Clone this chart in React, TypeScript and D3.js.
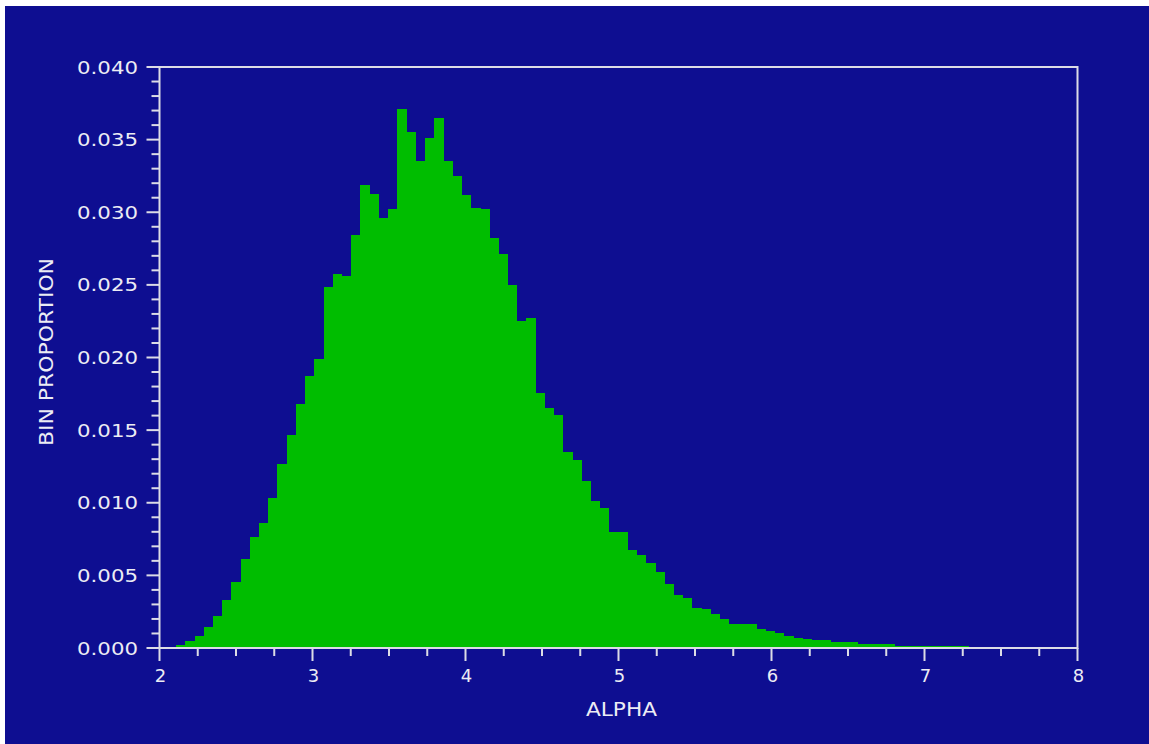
import React from "react";
import * as d3 from "d3";

// Histogram of ALPHA: proportion of observations falling in each bin
const binStart = 2.109;
const binWidth = 0.0602;
const proportions = [
  0.00019, 0.00046, 0.00081, 0.00143, 0.00218, 0.00328, 0.00452, 0.00613, 0.00762, 0.00863,
  0.01035, 0.01269, 0.01469, 0.01678, 0.01875, 0.0199, 0.02483, 0.02573, 0.02561, 0.02845,
  0.0319, 0.03128, 0.02958, 0.0302, 0.03711, 0.03552, 0.03353, 0.03513, 0.03651, 0.03353,
  0.03252, 0.03117, 0.03031, 0.0302, 0.02821, 0.0271, 0.02499, 0.02251, 0.02274, 0.01754,
  0.01654, 0.01606, 0.01347, 0.01294, 0.01148, 0.01012, 0.00962, 0.00801, 0.00801, 0.00675,
  0.00638, 0.00587, 0.00525, 0.00439, 0.00365, 0.00345, 0.00277, 0.00266, 0.00232, 0.00202,
  0.00167, 0.00167, 0.00167, 0.00129, 0.00115, 0.00101, 0.00085, 0.00071, 0.0006, 0.00053,
  0.00053, 0.00041, 0.00041, 0.00041, 0.00028, 0.00028, 0.00028, 0.00028,
  0.00016, 0.00016, 0.00016, 0.00016, 0.00016, 0.00016, 0.00016, 0.00016,
];

const xDomain = [2, 8];
const yDomain = [0, 0.04];
const xMajorTicks = [2, 3, 4, 5, 6, 7, 8];
const yMajorTicks = [0, 0.005, 0.01, 0.015, 0.02, 0.025, 0.03, 0.035, 0.04];
const yTickLabels = ["0.000", "0.005", "0.010", "0.015", "0.020", "0.025", "0.030", "0.035", "0.040"];
const xLabel = "ALPHA";
const yLabel = "BIN PROPORTION";

const W = 1149;
const H = 744;
const BG = "#0e0e91";
const BAR = "#00bd00";
const AXIS = "#dcdce6";
const TEXT = "#ececf4";
const FONT = "'DejaVu Sans', sans-serif";

export default function App() {
  const x = d3.scaleLinear().domain(xDomain).range([159.5, 1077.5]);
  const y = d3.scaleLinear().domain(yDomain).range([648, 67]);

  const xMinor = d3.range(0, 25).map((i) => 2 + i * 0.25);
  const yMinor = d3.range(0, 41).map((i) => i * 0.001);
  const isMajor = (v: number, step: number) => Math.abs(v / step - Math.round(v / step)) < 1e-6;

  const [x0, x1] = x.range();
  const [yb, yt] = y.range();

  return (
    <svg
      width={W}
      height={H}
      style={{ position: "absolute", left: 0, top: 0, display: "block" }}
    >
      <rect x={0} y={0} width={W} height={H} fill="#ffffff" />
      <rect x={5} y={6} width={W - 5} height={H - 6} fill={BG} />

      {/* bars */}
      <g shapeRendering="crispEdges">
        {proportions.map((p, i) => {
          const a = x(binStart + i * binWidth);
          const b = x(binStart + (i + 1) * binWidth);
          return (
            <rect key={i} x={a} y={y(p)} width={b - a + 0.4} height={yb - y(p)} fill={BAR} />
          );
        })}
      </g>

      {/* frame */}
      <g stroke={AXIS} strokeWidth={2} fill="none">
        <rect x={x0} y={yt} width={x1 - x0} height={yb - yt} />
        {xMinor.map((v, i) => {
          const major = isMajor(v, 1);
          return <line key={"xt" + i} x1={x(v)} x2={x(v)} y1={yb} y2={yb + (major ? 13 : 8)} />;
        })}
        {yMinor.map((v, i) => {
          const major = isMajor(v, 0.005);
          return <line key={"yt" + i} x1={x0} x2={x0 - (major ? 13 : 8)} y1={y(v)} y2={y(v)} />;
        })}
      </g>

      {/* tick labels */}
      <g fill={TEXT} fontFamily={FONT} fontSize={18}>
        {yMajorTicks.map((v, i) => (
          <text
            key={"yl" + i}
            x={77}
            y={y(v) + 6.5}
            textLength={61}
            lengthAdjust="spacingAndGlyphs"
          >
            {yTickLabels[i]}
          </text>
        ))}
        {xMajorTicks.map((v) => (
          <text key={"xl" + v} x={x(v) + 1} y={682} textAnchor="middle">
            {String(v)}
          </text>
        ))}
      </g>

      {/* axis titles */}
      <g fill={TEXT} fontFamily={FONT} fontSize={20}>
        <text x={586} y={716} textLength={71} lengthAdjust="spacingAndGlyphs">
          {xLabel}
        </text>
        <text
          transform="translate(53,446) rotate(-90)"
          x={0}
          y={0}
          textLength={188}
          lengthAdjust="spacingAndGlyphs"
        >
          {yLabel}
        </text>
      </g>
    </svg>
  );
}
